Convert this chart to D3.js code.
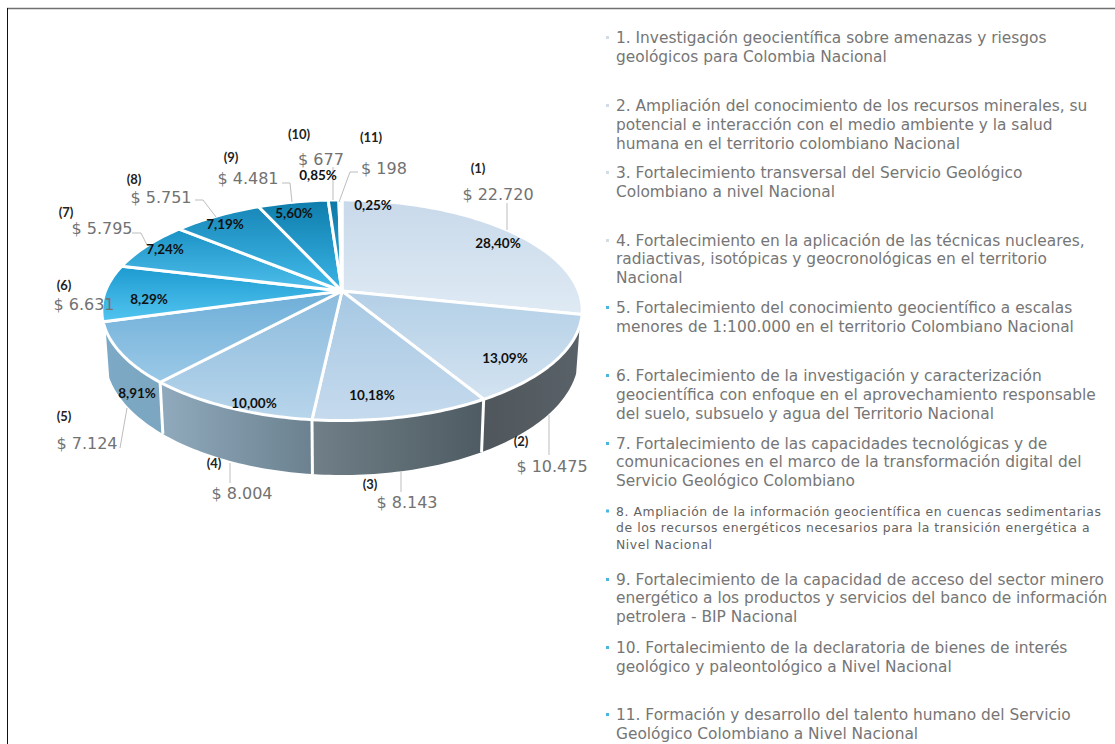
<!DOCTYPE html>
<html>
<head>
<meta charset="utf-8">
<script src="https://cdnjs.cloudflare.com/ajax/libs/d3/7.8.5/d3.min.js"></script>
<style>
  html, body { margin: 0; padding: 0; background: #fff; overflow: hidden; }
  svg { display: block; }
</style>
</head>
<body>
<div class="container"></div>
<script>
const WIDTH = 1115;
const HEIGHT = 744;

// data
const values = [22720, 10475, 8143, 8004, 7124, 6631, 5795, 5751, 4481, 677, 198];
const percentLabels = ['28,40%', '13,09%', '10,18%', '10,00%', '8,91%', '8,29%', '7,24%', '7,19%', '5,60%', '0,85%', '0,25%'];
const categories = [
  ['1. Investigación geocientífica sobre amenazas y riesgos', 'geológicos para Colombia Nacional'],
  ['2. Ampliación del conocimiento de los recursos minerales, su', 'potencial e interacción con el medio ambiente y la salud', 'humana en el territorio colombiano Nacional'],
  ['3. Fortalecimiento transversal del Servicio Geológico', 'Colombiano a nivel Nacional'],
  ['4. Fortalecimiento en la aplicación de las técnicas nucleares,', 'radiactivas, isotópicas y geocronológicas en el territorio', 'Nacional'],
  ['5. Fortalecimiento del conocimiento geocientífico a escalas', 'menores de 1:100.000 en el territorio Colombiano Nacional'],
  ['6. Fortalecimiento de la investigación y caracterización', 'geocientífica con enfoque en el aprovechamiento responsable', 'del suelo, subsuelo y agua del Territorio Nacional'],
  ['7. Fortalecimiento de las capacidades tecnológicas y de', 'comunicaciones en el marco de la transformación digital del', 'Servicio Geológico Colombiano'],
  ['8. Ampliación de la información geocientífica en cuencas sedimentarias', 'de los recursos energéticos necesarios para la transición energética a', 'Nivel Nacional'],
  ['9. Fortalecimiento de la capacidad de acceso del sector minero', 'energético a los productos y servicios del banco de información', 'petrolera - BIP Nacional'],
  ['10. Fortalecimiento de la declaratoria de bienes de interés', 'geológico y paleontológico a Nivel Nacional'],
  ['11. Formación y desarrollo del talento humano del Servicio', 'Geológico Colombiano a Nivel Nacional']
];

// layout
const legendTops = [37.5, 105.5, 172.5, 240.5, 307.5, 375.5, 443.5, 511, 579.5, 647.5, 714.5];
const legendSteps = [19, 19, 19, 18.5, 19, 19, 18.5, 16.5, 18.5, 19, 19];
const topColors = [
  ['#c8d9ea', '#dfeaf4'], ['#b3cfe6', '#d3e3f1'], ['#a6c8e3', '#c6daed'], ['#8bbbdd', '#b8d5eb'],
  ['#6eaed8', '#9bc9e7'], ['#1d9ad0', '#52c5f0'], ['#1b92c5', '#4fbfec'], ['#1888b9', '#42bbea'],
  ['#0e7dac', '#3ab5e6'], ['#0c77a5', '#38b3e4'], ['#0c77a5', '#38b3e4']
];
const wallColors = {
  1: ['#4f565c', '#596268'], 2: ['#707f88', '#4e5b62'], 3: ['#90aabd', '#6b818f'], 4: ['#7ca9c6', '#7ca6c0']
};
const percentSpots = [[498, 243], [505, 358], [372, 395], [254, 403], [137, 393], [149, 299], [165, 249], [225, 224], [294, 213], [318, 175], [373, 205]];
const numberSpots = [[478, 168], [521, 441], [370, 484], [214, 463], [64, 416], [64, 285], [66, 212], [134, 179], [231, 157], [299, 134], [371, 137]];
const valueSpots = [[498, 194], [552, 466], [407, 502], [242, 493], [87, 443], [84, 304], [102, 228], [161, 197], [248, 178], [321, 159], [384, 168]];
const leaders = [
  [[507, 203], [507, 230]],
  [[549, 415], [549, 455]],
  [[401, 472], [401, 492]],
  [[230, 463], [230, 483]],
  [[127, 408], [120, 448]],
  null,
  [[132, 233], [141, 233], [147, 245]],
  [[195, 200], [203, 200], [216, 217]],
  [[282, 183], [290, 183], [292, 202]],
  [[333, 167], [333, 200]],
  [[358, 172], [350, 172], [339, 202]]
];

// the disc is tilted in perspective, so the centre sits above the middle of the ellipse
const CX = 342;
const CY = 291;
const RADIUS = 236.5;
const TILT = 107;
const PERSPECTIVE = 0.174;
const DEPTH = 45;
const WALL_START = 108 * Math.PI / 180;
const WALL_END = 250 * Math.PI / 180;

function project(angle) {
  var u = Math.sin(angle);
  var v = Math.cos(angle);
  var w = 1 + PERSPECTIVE * v;
  return [CX + RADIUS * u / w, CY - TILT * v / w];
}

function projectBottom(angle) {
  var p = project(angle);
  var w = 1 + PERSPECTIVE * Math.cos(angle);
  return [CX + (p[0] - CX) * 0.985, p[1] + DEPTH / w];
}

function arcPoints(start, end, fn) {
  var n = Math.max(2, Math.ceil((end - start) / 0.02));
  return d3.range(n + 1).map(function (i) {
    return fn(start + (end - start) * i / n);
  });
}

const svg = d3.select('.container').append('svg')
  .attr('width', WIDTH)
  .attr('height', HEIGHT);

const defs = svg.append('defs');
const line = d3.line();
const pie = d3.pie().value(function (d) { return d; }).sort(null);
const arcs = pie(values);
const money = d3.formatLocale({ decimal: ',', thousands: '.', grouping: [3], currency: ['$ ', ''] }).format('$,');

// frame
svg.append('path').attr('d', line([[7, 8.5], [WIDTH, 8.5]])).attr('stroke', '#707070').attr('stroke-width', 1.5);
svg.append('path').attr('d', line([[7.5, 8], [7.5, HEIGHT]])).attr('stroke', '#111').attr('stroke-width', 1);

function gradient(id, colors, horizontal) {
  var g = defs.append('linearGradient').attr('id', id)
    .attr('x1', 0).attr('y1', 0)
    .attr('x2', horizontal ? 1 : 0).attr('y2', horizontal ? 0 : 1);
  g.append('stop').attr('offset', 0).attr('stop-color', colors[0]);
  g.append('stop').attr('offset', 1).attr('stop-color', colors[1]);
}

topColors.forEach(function (c, i) { gradient('top' + i, c, false); });
Object.keys(wallColors).forEach(function (k) { gradient('wall' + k, wallColors[k], true); });

// side wall, one piece per slice that reaches the front of the disc
const wallArcs = arcs.filter(function (d) { return wallColors[d.index]; });

svg.append('g').selectAll('path')
  .data(wallArcs)
  .enter().append('path')
  .attr('d', function (d) {
    var a0 = Math.max(d.startAngle, WALL_START);
    var a1 = Math.min(d.endAngle, WALL_END);
    var top = arcPoints(a0, a1, project);
    var bottom = arcPoints(a0, a1, projectBottom).reverse();
    return line(top.concat(bottom)) + 'Z';
  })
  .attr('fill', function (d) { return 'url(#wall' + d.index + ')'; });

// white seams between the wall pieces
svg.append('g').selectAll('path')
  .data(wallArcs.slice(1))
  .enter().append('path')
  .attr('d', function (d) {
    return line([project(d.startAngle), projectBottom(d.startAngle)]);
  })
  .attr('stroke', '#fff')
  .attr('stroke-width', 3);

// top face
svg.append('g').selectAll('path')
  .data(arcs)
  .enter().append('path')
  .attr('d', function (d) {
    return line([[CX, CY]].concat(arcPoints(d.startAngle, d.endAngle, project))) + 'Z';
  })
  .attr('fill', function (d) { return 'url(#top' + d.index + ')'; })
  .attr('stroke', '#fff')
  .attr('stroke-width', 3)
  .attr('stroke-linejoin', 'round');

// leader lines
svg.append('g').selectAll('path')
  .data(leaders.filter(Boolean))
  .enter().append('path')
  .attr('d', function (d) { return line(d); })
  .attr('fill', 'none')
  .attr('stroke', '#bdbdbd')
  .attr('stroke-width', 1);

function spotLabels(spots, texts, cls) {
  svg.append('g').selectAll('text')
    .data(texts)
    .enter().append('text')
    .attr('class', cls)
    .attr('x', function (d, i) { return spots[i][0]; })
    .attr('y', function (d, i) { return spots[i][1]; })
    .attr('text-anchor', 'middle')
    .attr('dominant-baseline', 'central')
    .text(function (d) { return d; });
}

spotLabels(percentSpots, percentLabels, 'pct');
spotLabels(numberSpots, values.map(function (d, i) { return '(' + (i + 1) + ')'; }), 'num');
spotLabels(valueSpots, values.map(money), 'val');

svg.selectAll('text.pct').attr('font-family', 'Lato').attr('font-weight', 700).attr('font-size', 13.5).attr('fill', '#111');
svg.selectAll('text.num').attr('font-family', 'Lato').attr('font-weight', 700).attr('font-size', 13).attr('fill', '#222');
svg.selectAll('text.val').attr('font-family', '"DejaVu Sans"').attr('font-size', 16).attr('fill', '#727272');

// legend
const legend = svg.append('g').selectAll('g')
  .data(categories)
  .enter().append('g');

legend.append('rect')
  .attr('x', 606)
  .attr('y', function (d, i) { return legendTops[i] - 1.5; })
  .attr('width', 3)
  .attr('height', 3)
  .attr('fill', function (d, i) { return i < 4 ? '#d3dbe3' : '#4ab5de'; });

legend.each(function (lines, i) {
  d3.select(this).selectAll('text')
    .data(lines)
    .enter().append('text')
    .attr('x', 616)
    .attr('y', function (d, j) { return legendTops[i] + legendSteps[i] * j; })
    .attr('dominant-baseline', 'central')
    .attr('font-family', '"DejaVu Sans"')
    .attr('font-size', i === 7 ? 12.4 : 15.4)
    .attr('letter-spacing', i === 7 ? 0.57 : 0)
    .attr('fill', i === 7 ? '#636363' : '#767676')
    .text(function (d) { return d; });
});
</script>
</body>
</html>
